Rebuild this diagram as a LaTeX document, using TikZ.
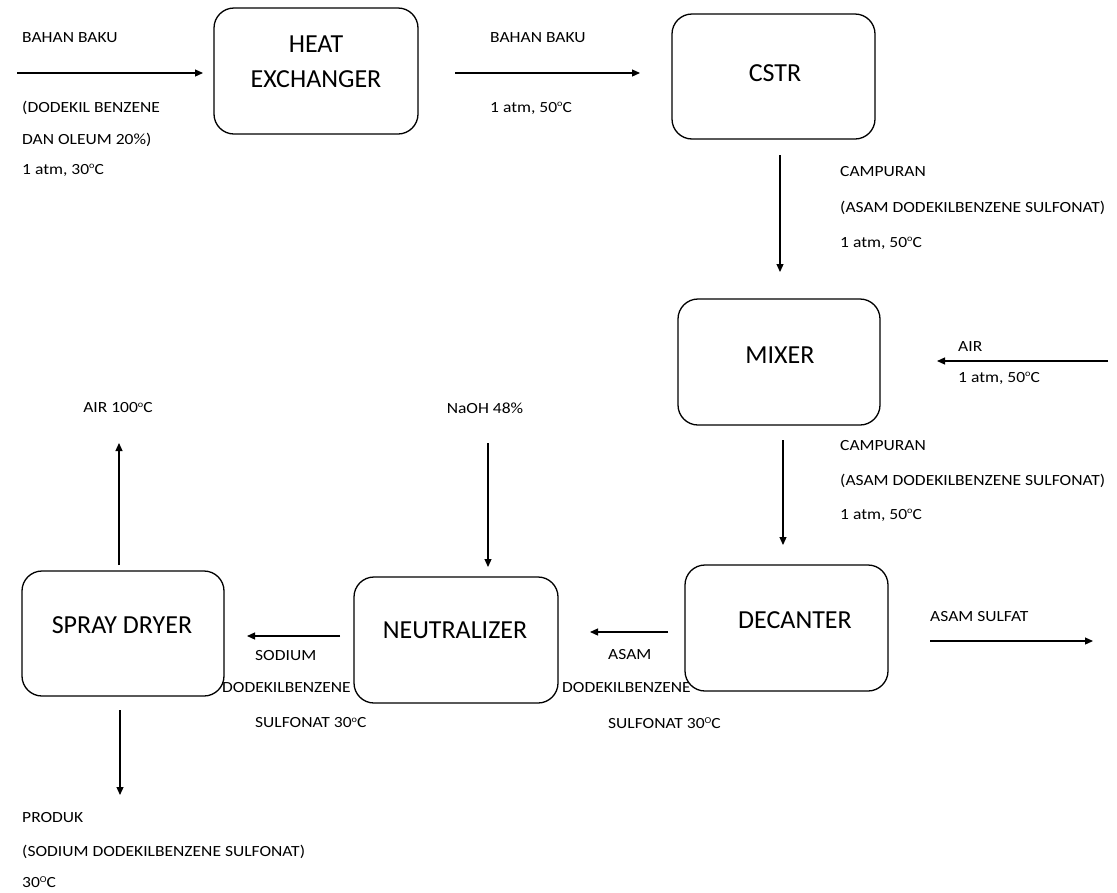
\documentclass[tikz,border=0pt]{standalone}
\usepackage{fontspec}
\setmainfont{Carlito}
\newfontfamily\lblfont[FakeStretch=1.13]{Carlito}
\newcommand{\dgo}{\raisebox{0.75ex}{\fontsize{9}{9}\selectfont o}}
\newcommand{\dgO}{\raisebox{0.75ex}{\fontsize{9}{9}\selectfont O}}
\usetikzlibrary{arrows.meta}
\begin{document}
\begin{tikzpicture}[x=1pt,y=-1pt,
 unit/.style={draw, rounded corners=20pt, line width=1.3pt, fill=white, inner sep=0pt},
 utext/.style={font=\fontsize{26}{35}\selectfont, align=center, inner sep=0pt},
 lbl/.style={font=\lblfont\fontsize{15.5}{18}\selectfont, anchor=west, inner sep=0pt},
 flow/.style={line width=1.2pt, -{Triangle[length=8pt,width=7pt]}}]
\useasboundingbox (0,0) rectangle (1117,892);
% labels partly under boxes
\node[lbl] (l_dd1) at (222,688) {DODEKILBENZENE};
\node[lbl] (l_dd2) at (562,688) {DODEKILBENZENE};
% boxes
\node[unit, minimum width=204pt, minimum height=126pt] (hx) at (316,71) {};
\node[unit, minimum width=203pt, minimum height=125pt] (cstr) at (773.5,76.5) {};
\node[unit, minimum width=202pt, minimum height=126pt] (mix) at (779,362) {};
\node[unit, minimum width=203pt, minimum height=126pt] (dec) at (786.5,628) {};
\node[unit, minimum width=204pt, minimum height=126pt] (neu) at (456,640) {};
\node[unit, minimum width=202pt, minimum height=125pt] (spr) at (123,633.5) {};
% box texts
\node[utext] (t_hx) at (316,62) {HEAT\\EXCHANGER};
\node[utext] (t_cstr) at (775,73) {CSTR};
\node[utext] (t_mix) at (780,355) {MIXER};
\node[utext] (t_dec) at (795,620) {DECANTER};
\node[utext] (t_neu) at (455,630) {NEUTRALIZER};
\node[utext] (t_spr) at (122,625) {SPRAY DRYER};
% stream labels
\node[lbl] (l1) at (22,38) {BAHAN BAKU};
\node[lbl] (l2) at (22,108) {(DODEKIL BENZENE};
\node[lbl] (l3) at (22,140) {DAN OLEUM 20\%)};
\node[lbl] (l4) at (22,170) {1 atm, 30\dgo C};
\node[lbl] (l5) at (490,38) {BAHAN BAKU};
\node[lbl] (l6) at (490,108) {1 atm, 50\dgo C};
\node[lbl] (l7) at (840,172) {CAMPURAN};
\node[lbl] (l8) at (840,208) {(ASAM DODEKILBENZENE SULFONAT)};
\node[lbl] (l9) at (840,243) {1 atm, 50\dgo C};
\node[lbl] (l10) at (958,347) {AIR};
\node[lbl] (l11) at (958,378) {1 atm, 50\dgo C};
\node[lbl] (l12) at (840,446) {CAMPURAN};
\node[lbl] (l13) at (840,481) {(ASAM DODEKILBENZENE SULFONAT)};
\node[lbl] (l14) at (840,515) {1 atm, 50\dgo C};
\node[lbl] (l15) at (930,617) {ASAM SULFAT};
\node[lbl] (l16) at (608,655) {ASAM};
\node[lbl] (l17) at (608,723) {SULFONAT 30\dgO C};
\node[lbl, anchor=center] (l18) at (485,408) {NaOH 48\%};
\node[lbl] (l19) at (255,656) {SODIUM};
\node[lbl] (l20) at (255,723) {SULFONAT 30\dgo C};
\node[lbl, anchor=center] (l21) at (118,408) {AIR 100\dgo C};
\node[lbl] (l22) at (22,818) {PRODUK};
\node[lbl] (l23) at (22,852) {(SODIUM DODEKILBENZENE SULFONAT)};
\node[lbl] (l24) at (22,882) {30\dgO C};
% connector end points
\coordinate (feed) at (17,73);
\coordinate (hxin) at (203,73);
\coordinate (hxout) at (455,73);
\coordinate (cstrin) at (640,73);
\coordinate (cstrout) at (780,155);
\coordinate (mixin) at (780,272);
\coordinate (airsrc) at (1108,361);
\coordinate (mixair) at (937,361);
\coordinate (mixout) at (783,440);
\coordinate (decin) at (783,545);
\coordinate (decs) at (930,641);
\coordinate (sulf) at (1093,641);
\coordinate (deco) at (668,632);
\coordinate (neuin) at (590,632);
\coordinate (naoh) at (488,443);
\coordinate (neutop) at (488,567);
\coordinate (neuo) at (340,636);
\coordinate (sprin) at (247,636);
\coordinate (sprtop) at (119,565);
\coordinate (vap) at (119,443);
\coordinate (sprbot) at (120,710);
\coordinate (prod) at (120,795);
% connectors
\draw[flow] (feed) -- (hxin);
\draw[flow] (hxout) -- (cstrin);
\draw[flow] (cstrout) -- (mixin);
\draw[flow] (airsrc) -- (mixair);
\draw[flow] (mixout) -- (decin);
\draw[flow] (decs) -- (sulf);
\draw[flow] (deco) -- (neuin);
\draw[flow] (naoh) -- (neutop);
\draw[flow] (neuo) -- (sprin);
\draw[flow] (sprtop) -- (vap);
\draw[flow] (sprbot) -- (prod);
\end{tikzpicture}
\end{document}
